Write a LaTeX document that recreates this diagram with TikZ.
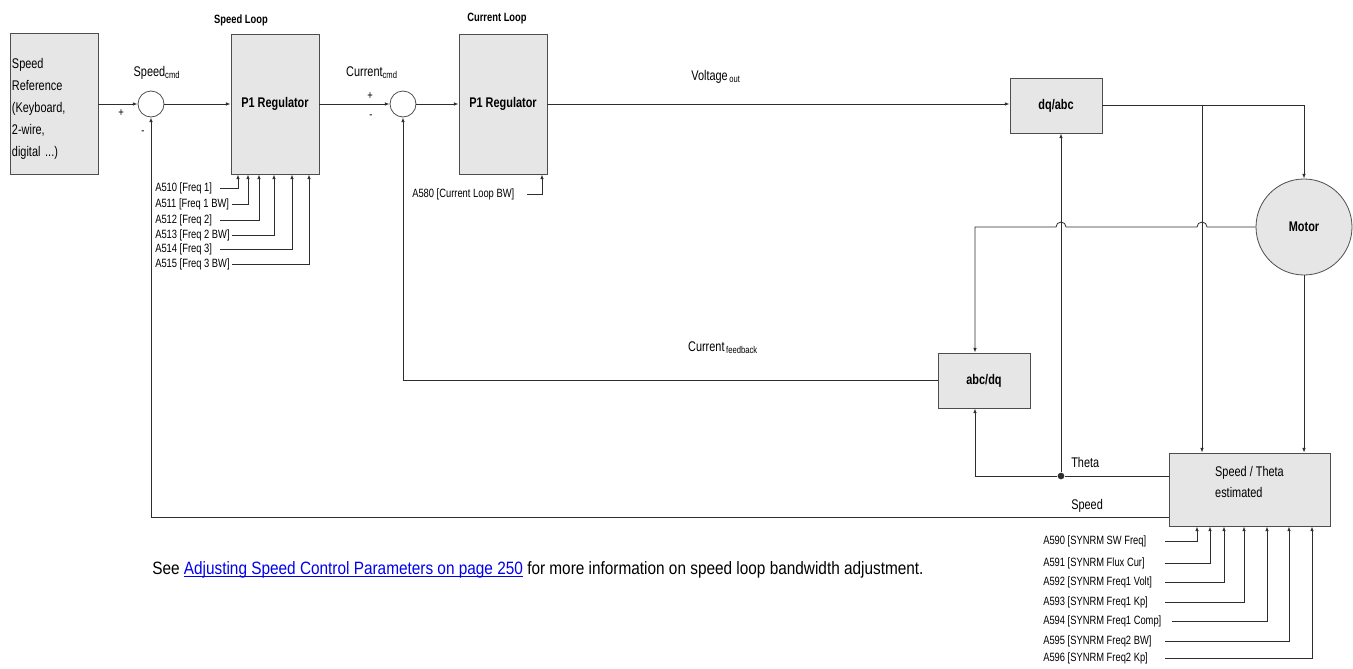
\documentclass[tikz,border=0pt]{standalone}
\usepackage{fontspec}
\setmainfont[FakeStretch=0.78]{Liberation Sans}
\newfontfamily\notefont[FakeStretch=0.86]{Liberation Sans}
\usepackage{xcolor}
\usetikzlibrary{arrows.meta,positioning,calc}
\definecolor{blkfill}{RGB}{230,230,230}
\definecolor{blkline}{RGB}{77,77,77}
\definecolor{wirec}{RGB}{45,45,45}
\definecolor{linkc}{RGB}{0,0,238}
\newcommand\lnkline[1]{\underline{\smash{#1}}}

\begin{document}
\begin{tikzpicture}[x=0.75pt,y=-0.75pt,>={Latex[length=3.5pt,width=2.6pt]},
    blk/.style={draw=blkline,fill=blkfill,line width=0.6pt,inner sep=1.5pt},
    bigblk/.style={blk,minimum width=66pt,minimum height=105pt},
    smblk/.style={blk,minimum width=69pt,minimum height=41.25pt,font=\fontsize{10.5}{12}\selectfont\bfseries},
    sumc/.style={circle,draw=blkline,line width=0.6pt,minimum size=19.5pt,inner sep=0pt},
    wire/.style={wirec,line width=0.6pt},
    lbl/.style={font=\fontsize{10.5}{12}\selectfont,inner sep=0pt},
    prm/.style={font=\fontsize{9}{10}\selectfont,inner sep=0pt},
    ttl/.style={font=\fontsize{9}{10}\selectfont\bfseries,inner sep=0pt},
    sgn/.style={font=\fontsize{9}{10}\selectfont,inner sep=0pt}]
  \useasboundingbox (0,0) rectangle (1353,668);
  % blocks
  \node[blk,minimum width=66pt,minimum height=105.75pt,text width=63pt,align=left,
        font=\fontsize{10.5}{16.5}\selectfont] (sref) at (54,104)
        {\rule{0pt}{15pt}Speed\\Reference\\(Keyboard,\\2-wire,\\digital ...)};
  \node[sumc] (sum1) at (151,104) {};
  \node[bigblk,font=\fontsize{10.5}{12}\selectfont\bfseries] (sreg) at (275,104) {P1 Regulator};
  \node[sumc] (sum2) at (403,104) {};
  \node[bigblk,font=\fontsize{10.5}{12}\selectfont\bfseries] (creg) at (503,104) {P1 Regulator};
  \node[smblk] (dqabc) at (1056,105.5) {dq/abc};
  \node[smblk] (abcdq) at (984,380.5) {abc/dq};
  \node[blk,circle,minimum size=72pt,font=\fontsize{10.5}{12}\selectfont\bfseries] (motor) at (1304,227) {Motor};
  \node[blk,minimum width=120.75pt,minimum height=54.75pt,align=left,
        font=\fontsize{10.5}{15.75}\selectfont] (stb) at (1249.5,489.5)
        {Speed / Theta\\estimated\rule[-11pt]{0pt}{11pt}};
  % titles and signal labels
  \node[ttl] (tspd) at (241,20) {Speed Loop};
  \node[ttl] (tcur) at (497,19) {Current Loop};
  \node[lbl] (lscmd) at (157,73) {Speed\textsubscript{cmd}};
  \node[lbl] (lccmd) at (372,73) {Current\textsubscript{cmd}};
  \node[lbl] (lvout) at (716,77) {Voltage\textsubscript{\,out}};
  \node[lbl] (lcfb) at (723,348) {Current\textsubscript{\,feedback}};
  \node[lbl,anchor=west] (ltheta) at (1071,462) {Theta};
  \node[lbl,anchor=west] (lspeed) at (1071,506) {Speed};
  \node[sgn] (s1p) at (121,113) {+};
  \node[sgn] (s1m) at (143,133) {-};
  \node[sgn] (s2p) at (370,96) {+};
  \node[sgn] (s2m) at (371,117) {-};
  % forward path
  \draw[wire,->] (sref) -- (sum1);
  \draw[wire,->] (sum1) -- (sreg);
  \draw[wire,->] (sreg) -- (sum2);
  \draw[wire,->] (sum2) -- (creg);
  \draw[wire,->] (creg.east) -- (creg.east -| dqabc.west);
  \coordinate (jb) at (1202,105.5);
  \draw[wire,->] (dqabc.east) -| (motor.north);
  \draw[wire,->] (jb) -- (jb |- stb.north);
  \draw[wire,->] (motor.south) -- (motor.south |- stb.north);
  % feedback paths
  \node[circle,fill=wirec,inner sep=0pt,minimum size=5pt] (jt) at (1061,476) {};
  \coordinate (ain) at ([xshift=-6.75pt]abcdq.north);
  \coordinate (aout) at ([xshift=-6.75pt]abcdq.south);
  \coordinate (thout) at ([yshift=10.125pt]stb.west);
  \coordinate (spout) at ([yshift=-20.625pt]stb.west);
  \draw[wire,->] (motor.west) -- ($(jb |- motor.west)+(5,0)$)
    arc[start angle=0,end angle=180,radius=3.75pt]
    -- ($(jt |- motor.west)+(5,0)$)
    arc[start angle=0,end angle=180,radius=3.75pt]
    -- (ain |- motor.west) -- (ain);
  \draw[wire,->] (abcdq.west) -| (sum2.south);
  \draw[wire] (thout) -- (jt);
  \draw[wire,->] (jt) -- (aout |- jt) -- (aout);
  \draw[wire,->] (jt) -- (jt |- dqabc.south);
  \draw[wire,->] (spout) -| (sum1.south);
  % speed loop parameters
  \foreach \n/\txt/\y/\xs/\xe in {510/{A510 [Freq 1]}/188/220/238,
      511/{A511 [Freq 1 BW]}/204/232/248, 512/{A512 [Freq 2]}/220/220/259,
      513/{A513 [Freq 2 BW]}/235/232/274, 514/{A514 [Freq 3]}/249/220/292,
      515/{A515 [Freq 3 BW]}/264/232/309} {
    \node[prm,anchor=west] (p\n) at (155,\y) {\txt};
    \coordinate (s\n) at (\xs,\y);
    \coordinate (t\n) at (\xe,0);
    \draw[wire,->] (s\n) -| (t\n |- sreg.south);
  }
  % current loop parameter
  \node[prm,anchor=west] (p580) at (412,194) {A580 [Current Loop BW]};
  \coordinate (s580) at (527,194);
  \coordinate (t580) at (542,0);
  \draw[wire,->] (s580) -| (t580 |- creg.south);
  % estimator parameters
  \foreach \n/\txt/\y/\xs/\xe in {590/{A590 [SYNRM SW Freq]}/541/1165/1197,
      591/{A591 [SYNRM Flux Cur]}/563/1165/1210, 592/{A592 [SYNRM Freq1 Volt]}/582/1165/1224,
      593/{A593 [SYNRM Freq1 Kp]}/602/1165/1244, 594/{A594 [SYNRM Freq1 Comp]}/621/1172/1267,
      595/{A595 [SYNRM Freq2 BW]}/641/1165/1289, 596/{A596 [SYNRM Freq2 Kp]}/658/1165/1312} {
    \node[prm,anchor=west] (p\n) at (1043,\y) {\txt};
    \coordinate (s\n) at (\xs,\y);
    \coordinate (t\n) at (\xe,0);
    \draw[wire,->] (s\n) -| (t\n |- stb.south);
  }
  % note
  \node[anchor=west,inner sep=0pt,font=\notefont\fontsize{13.4}{15}\selectfont] (note) at (152,570)
    {See {\color{linkc}\lnkline{Adjusting Speed Control Parameters on page 250}} for more information on speed loop bandwidth adjustment.};
\end{tikzpicture}
\end{document}
